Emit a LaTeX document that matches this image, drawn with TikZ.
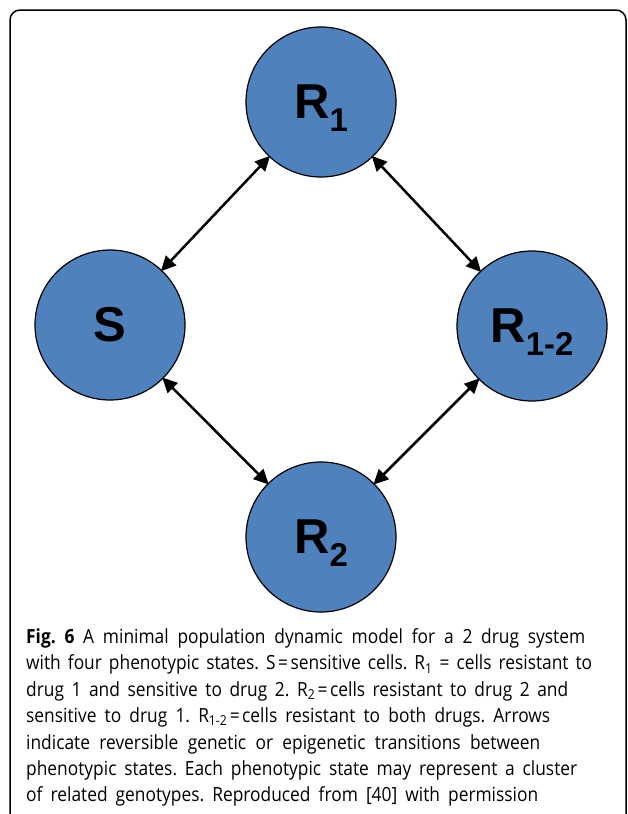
\documentclass[tikz,border=0pt]{standalone}
\usepackage{fontspec}
\setmainfont{Liberation Sans}
\newfontfamily\capfont[FakeStretch=0.89,WordSpace={0.85,1.5,0.3}]{Open Sans}
\usetikzlibrary{arrows.meta}
\definecolor{nodeblue}{HTML}{4F81BD}
\newcommand\nsub[1]{\raisebox{-13pt}[0pt][0pt]{\fontsize{33}{33}\selectfont #1}}
\newcommand\capl[2]{\makebox[#1][s]{#2}}
\newcommand\eqs{\kern2.5pt=\kern2.5pt{}}
\begin{document}
\begin{tikzpicture}[x=1pt,y=-1pt,
  state/.style={circle, draw=black, line width=1.2pt, fill=nodeblue,
    minimum size=150pt, inner sep=0pt, outer sep=0pt,
    font=\fontsize{49}{49}\selectfont\bfseries},
  trans/.style={{Triangle[length=15pt,width=14pt]}-{Triangle[length=15pt,width=14pt]},
    line width=2.5pt, shorten <=-1pt, shorten >=-1pt},
  capline/.style={anchor=base west, inner sep=0pt,
    font=\capfont\fontsize{19.5}{24}\selectfont\frenchspacing}]
\useasboundingbox (0,0) rectangle (627,814);
\begin{scope}
  \clip (0,0) rectangle (627,814);
  \draw[line width=1.5pt, rounded corners=10pt] (10,840) -- (10,10) -- (626,10) -- (626,840);
\end{scope}

\node[state] (R1)  at (321,102) {R\nsub{1}};
\node[state] (S)   at (110,325) {S};
\node[state] (R12) at (532,326) {R\nsub{1-2}};
\node[state] (R2)  at (321,537) {R\nsub{2}};

\draw[trans] (S) -- (R1);
\draw[trans] (R1) -- (R12);
\draw[trans] (S) -- (R2);
\draw[trans] (R2) -- (R12);

\node[capline] (c1) at (26,643.5) {\capl{559pt}{\textbf{Fig. 6} A minimal population dynamic model for a 2 drug system}};
\node[capline] (c2) at (26,669.9) {\capl{566pt}{with four phenotypic states. S\eqs sensitive cells. R\textsubscript{1} = cells resistant to}};
\node[capline] (c3) at (26,696.3) {\capl{542pt}{drug 1 and sensitive to drug 2. R\textsubscript{2}\eqs cells resistant to drug 2 and}};
\node[capline] (c4) at (26,722.7) {\capl{524pt}{sensitive to drug 1. R\textsubscript{1-2}\eqs cells resistant to both drugs. Arrows}};
\node[capline] (c5) at (26,749.1) {\capl{514pt}{indicate reversible genetic or epigenetic transitions between}};
\node[capline] (c6) at (26,775.5) {\capl{551pt}{phenotypic states. Each phenotypic state may represent a cluster}};
\node[capline] (c7) at (26,801.9) {\capl{512pt}{of related genotypes. Reproduced from [40] with permission}};
\end{tikzpicture}
\end{document}
